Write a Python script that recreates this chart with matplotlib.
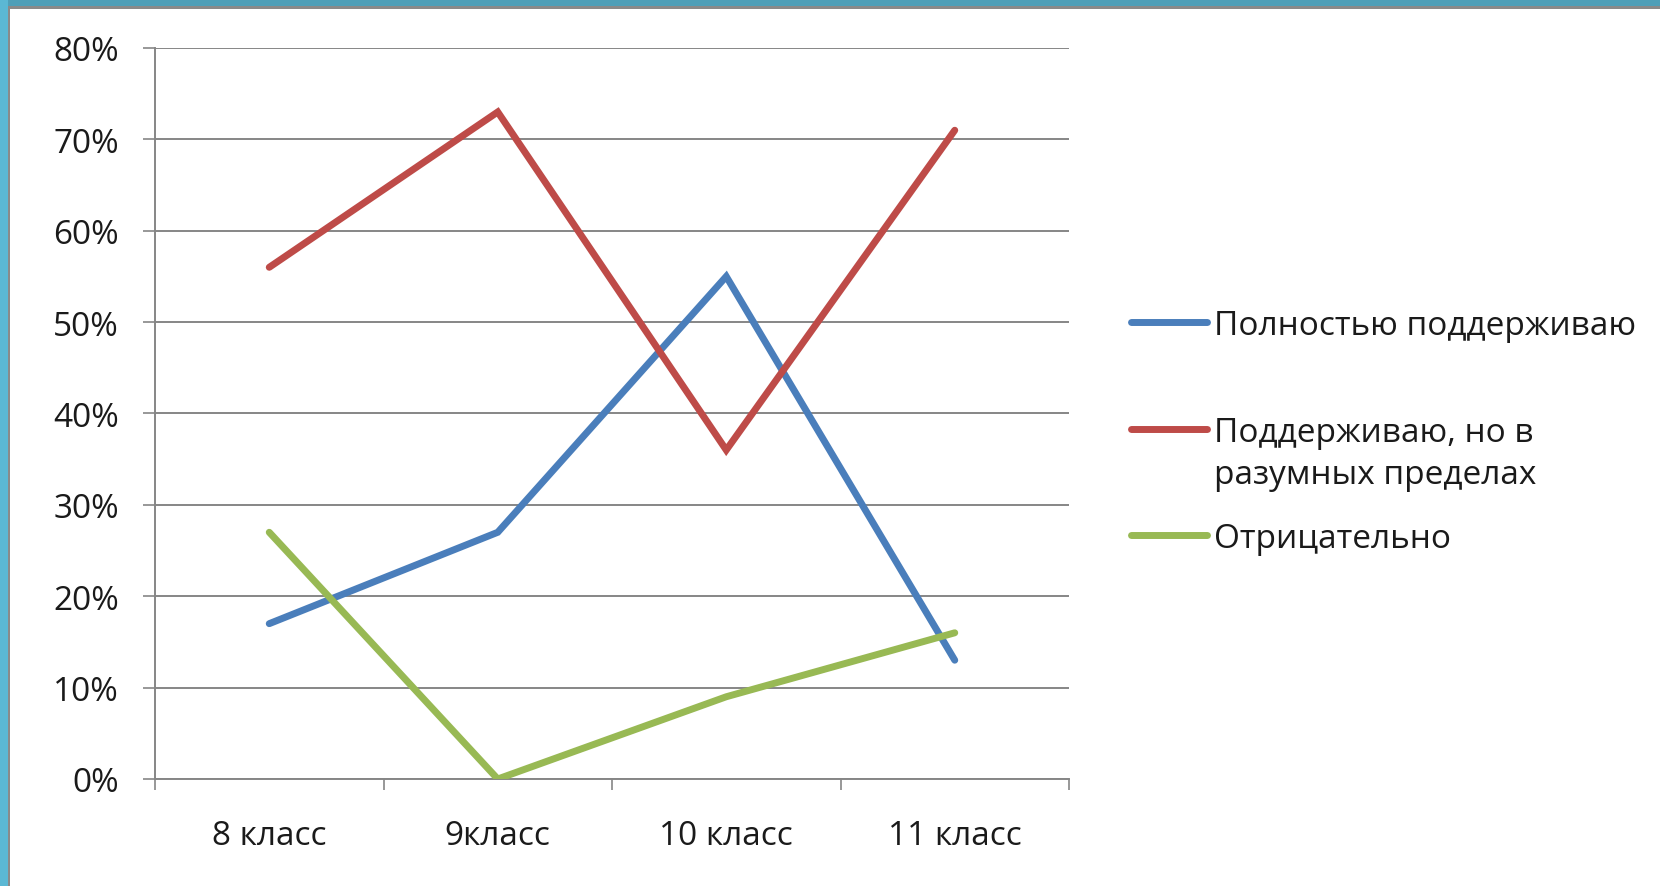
import numpy as np
import matplotlib.pyplot as plt
from matplotlib.patches import Rectangle
from matplotlib.lines import Line2D
from matplotlib.ticker import FuncFormatter

plt.rcParams['font.family'] = ['Open Sans', 'DejaVu Sans']

categories = ['8 класс', '9класс', '10 класс', '11 класс']
full_support = [17, 27, 55, 13]
partial_support = [56, 73, 36, 71]
negative = [27, 0, 9, 16]

series_names = ['Полностью поддерживаю', 'Поддерживаю, но в\nразумных пределах', 'Отрицательно']
series_colors = ['#4A7EBB', '#BE4B48', '#98B954']

W, H = 1660, 887
fig = plt.figure(figsize=(W / 100, H / 100), dpi=100)
fig.patch.set_facecolor('white')

# slide frame: teal strips at top and left edge
fig.patches.append(Rectangle((0, 1 - 8 / H), 1, 8 / H, transform=fig.transFigure,
                             facecolor='#4F9FB8', edgecolor='none', zorder=0))
fig.patches.append(Rectangle((0, 1 - 10 / H), 1, 3 / H, transform=fig.transFigure,
                             facecolor='#8A8A8A', edgecolor='none', zorder=0))
fig.patches.append(Rectangle((0, 0), 8 / W, 1, transform=fig.transFigure,
                             facecolor='#5BB8D4', edgecolor='none', zorder=0))
fig.patches.append(Rectangle((8 / W, 0), 2 / W, 1 - 8 / H, transform=fig.transFigure,
                             facecolor='#8A8A8A', edgecolor='none', zorder=0))

ax = fig.add_axes([155 / W, 1 - 780 / H, (1069 - 155) / W, (780 - 49) / H])
x = np.arange(len(categories))
data = [full_support, partial_support, negative]
for vals, name, col in zip(data, series_names, series_colors):
    ax.plot(x, vals, color=col, lw=5, solid_capstyle='round', solid_joinstyle='miter',
            label=name, zorder=3)

ax.set_xlim(-0.5, len(categories) - 0.5)
ax.set_ylim(0, 80)
ax.set_yticks(np.arange(0, 81, 10))
ax.yaxis.set_major_formatter(FuncFormatter(lambda v, p: f'{int(v)}%'))
ax.grid(axis='y', color='#868686', lw=1.4, zorder=1)
ax.set_axisbelow(True)

ax.set_xticks(x)
ax.set_xticklabels(categories)
ax.set_xticks(np.arange(-0.5, len(categories)), minor=True)
ax.tick_params(axis='x', which='major', length=0, pad=29, labelsize=24, labelcolor='#1A1A1A')
ax.tick_params(axis='x', which='minor', length=8, width=1.2, color='#868686', direction='out')
ax.tick_params(axis='y', length=9, width=1.2, color='#868686', pad=17, labelsize=24,
               labelcolor='#1A1A1A')

for s in ['top', 'right']:
    ax.spines[s].set_visible(False)
for s in ['left', 'bottom']:
    ax.spines[s].set_color('#868686')
    ax.spines[s].set_linewidth(1.4)

# legend laid out like the Excel one: handles evenly spaced, text wraps downward
leg_y = [323, 430, 536]
for name, col, yy in zip(series_names, series_colors, leg_y):
    fig.add_artist(Line2D([1131 / W, 1207 / W], [1 - yy / H, 1 - yy / H], transform=fig.transFigure,
                          color=col, lw=5, solid_capstyle='round'))
    fig.text(1214 / W, 1 - (yy - 13) / H, name, fontsize=24, color='#1A1A1A',
             va='top', ha='left', linespacing=1.35)

fig.savefig('out.png', dpi=100, facecolor='white')
